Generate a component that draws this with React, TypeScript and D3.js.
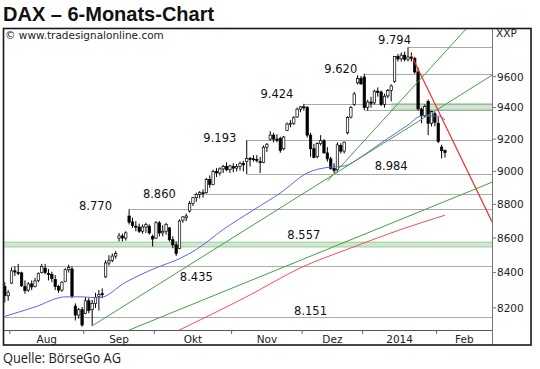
import React, { useRef, useEffect } from "react";
import * as d3 from "d3";

// trading calendar (Xetra) and axis texts
const firstDay = new Date(2013, 6, 30);
const endDay = new Date(2014, 2, 1);
const holidays = ["2013-12-24", "2013-12-25", "2013-12-26", "2013-12-31", "2014-01-01"];
const monthLabels = ["Aug", "Sep", "Okt", "Nov", "Dez", "2014", "Feb"];
const priceTicks = [8200, 8400, 8600, 8800, 9000, 9200, 9400, 9600];

// daily bars: date, open, high, low, close
const bars: [string, number, number, number, number][] = [
  ["2013-07-30", 8320, 8345, 8230, 8270],
  ["2013-07-31", 8268, 8300, 8240, 8285],
  ["2013-08-01", 8340, 8430, 8335, 8410],
  ["2013-08-02", 8410, 8435, 8380, 8403],
  ["2013-08-05", 8400, 8450, 8385, 8398],
  ["2013-08-06", 8398, 8405, 8318, 8325],
  ["2013-08-07", 8320, 8355, 8280, 8297],
  ["2013-08-08", 8300, 8345, 8290, 8335],
  ["2013-08-09", 8335, 8355, 8300, 8318],
  ["2013-08-12", 8320, 8370, 8315, 8352],
  ["2013-08-13", 8355, 8400, 8345, 8396],
  ["2013-08-14", 8400, 8450, 8395, 8435],
  ["2013-08-15", 8425, 8450, 8390, 8400],
  ["2013-08-16", 8395, 8420, 8355, 8391],
  ["2013-08-19", 8390, 8405, 8345, 8366],
  ["2013-08-20", 8360, 8385, 8300, 8320],
  ["2013-08-21", 8320, 8330, 8285, 8300],
  ["2013-08-22", 8300, 8350, 8290, 8345],
  ["2013-08-23", 8350, 8425, 8345, 8416],
  ["2013-08-26", 8416, 8445, 8400, 8430],
  ["2013-08-27", 8420, 8435, 8255, 8265],
  ["2013-08-28", 8210, 8225, 8130, 8160],
  ["2013-08-29", 8160, 8200, 8140, 8190],
  ["2013-08-30", 8190, 8205, 8095, 8105],
  ["2013-09-02", 8170, 8260, 8165, 8240],
  ["2013-09-03", 8240, 8255, 8170, 8185],
  ["2013-09-04", 8190, 8245, 8100, 8225],
  ["2013-09-05", 8225, 8285, 8200, 8260],
  ["2013-09-06", 8265, 8300, 8185, 8276],
  ["2013-09-09", 8280, 8310, 8255, 8276],
  ["2013-09-10", 8375, 8470, 8370, 8455],
  ["2013-09-11", 8455, 8500, 8440, 8469],
  ["2013-09-12", 8470, 8510, 8460, 8495],
  ["2013-09-13", 8495, 8525, 8480, 8509],
  ["2013-09-16", 8600, 8630, 8580, 8613],
  ["2013-09-17", 8612, 8625, 8580, 8600],
  ["2013-09-18", 8600, 8640, 8585, 8630],
  ["2013-09-19", 8730, 8770, 8680, 8694],
  ["2013-09-20", 8695, 8720, 8660, 8675],
  ["2013-09-23", 8670, 8700, 8640, 8665],
  ["2013-09-24", 8665, 8685, 8630, 8640],
  ["2013-09-25", 8640, 8680, 8625, 8665],
  ["2013-09-26", 8665, 8690, 8630, 8680],
  ["2013-09-27", 8670, 8680, 8620, 8630],
  ["2013-09-30", 8610, 8620, 8550, 8594],
  ["2013-10-01", 8600, 8700, 8595, 8690],
  ["2013-10-02", 8690, 8700, 8610, 8630],
  ["2013-10-03", 8630, 8675, 8610, 8640],
  ["2013-10-04", 8640, 8690, 8620, 8680],
  ["2013-10-07", 8660, 8665, 8580, 8590],
  ["2013-10-08", 8590, 8610, 8540, 8560],
  ["2013-10-09", 8560, 8580, 8495, 8510],
  ["2013-10-10", 8540, 8710, 8535, 8700],
  ["2013-10-11", 8705, 8730, 8690, 8725],
  ["2013-10-14", 8720, 8745, 8700, 8730],
  ["2013-10-15", 8760, 8820, 8750, 8805],
  ["2013-10-16", 8805, 8845, 8790, 8840],
  ["2013-10-17", 8840, 8870, 8815, 8860],
  ["2013-10-18", 8860, 8880, 8835, 8870],
  ["2013-10-21", 8870, 8890, 8840, 8865],
  ["2013-10-22", 8870, 8960, 8865, 8950],
  ["2013-10-23", 8950, 8975, 8900, 8920],
  ["2013-10-24", 8920, 9010, 8915, 9000],
  ["2013-10-25", 9000, 9020, 8965, 8990],
  ["2013-10-28", 8990, 9025, 8975, 9015],
  ["2013-10-29", 9015, 9040, 8990, 9030],
  ["2013-10-30", 9030, 9055, 9000, 9010],
  ["2013-10-31", 9010, 9040, 8990, 9033],
  ["2013-11-01", 9030, 9050, 8995, 9020],
  ["2013-11-04", 9020, 9045, 9000, 9030],
  ["2013-11-05", 9030, 9060, 9005, 9050],
  ["2013-11-06", 9050, 9065, 9000, 9040],
  ["2013-11-07", 9060, 9193, 8984, 9080],
  ["2013-11-08", 9080, 9090, 9030, 9078],
  ["2013-11-11", 9078, 9100, 9060, 9074],
  ["2013-11-12", 9074, 9100, 9055, 9070],
  ["2013-11-13", 9060, 9090, 8990, 9054],
  ["2013-11-14", 9054, 9160, 9050, 9149],
  ["2013-11-15", 9150, 9175, 9120, 9168],
  ["2013-11-18", 9200, 9250, 9190, 9225],
  ["2013-11-19", 9225, 9240, 9180, 9200],
  ["2013-11-20", 9200, 9230, 9180, 9193],
  ["2013-11-21", 9205, 9215, 9115, 9130],
  ["2013-11-22", 9140, 9220, 9130, 9213],
  ["2013-11-25", 9255, 9305, 9250, 9295],
  ["2013-11-26", 9295, 9320, 9275, 9300],
  ["2013-11-27", 9300, 9345, 9290, 9335],
  ["2013-11-28", 9340, 9400, 9335, 9390],
  ["2013-11-29", 9390, 9410, 9370, 9405],
  ["2013-12-02", 9405, 9424, 9380, 9400],
  ["2013-12-03", 9400, 9410, 9210, 9225],
  ["2013-12-04", 9225, 9240, 9090, 9140],
  ["2013-12-05", 9140, 9170, 9080, 9085],
  ["2013-12-06", 9090, 9180, 9080, 9172],
  ["2013-12-09", 9172, 9225, 9160, 9190],
  ["2013-12-10", 9190, 9200, 9110, 9114],
  ["2013-12-11", 9114, 9150, 9060, 9077],
  ["2013-12-12", 9077, 9090, 9010, 9017],
  ["2013-12-13", 9017, 9050, 8990, 9006],
  ["2013-12-16", 9010, 9180, 9000, 9164],
  ["2013-12-17", 9160, 9175, 9110, 9125],
  ["2013-12-18", 9125, 9185, 9110, 9181],
  ["2013-12-19", 9240, 9345, 9230, 9336],
  ["2013-12-20", 9340, 9410, 9330, 9400],
  ["2013-12-23", 9420, 9500, 9410, 9488],
  ["2013-12-27", 9560, 9610, 9550, 9589],
  ["2013-12-30", 9590, 9605, 9550, 9552],
  ["2014-01-02", 9598, 9620, 9385, 9400],
  ["2014-01-03", 9400, 9450, 9380, 9436],
  ["2014-01-06", 9436, 9470, 9400, 9428],
  ["2014-01-07", 9430, 9515, 9420, 9506],
  ["2014-01-08", 9506, 9530, 9470, 9498],
  ["2014-01-09", 9500, 9510, 9410, 9421],
  ["2014-01-10", 9421, 9490, 9400, 9473],
  ["2014-01-13", 9475, 9520, 9460, 9510],
  ["2014-01-14", 9510, 9550, 9440, 9540],
  ["2014-01-15", 9570, 9735, 9560, 9733],
  ["2014-01-16", 9733, 9750, 9700, 9717],
  ["2014-01-17", 9717, 9760, 9700, 9742],
  ["2014-01-20", 9742, 9765, 9700, 9715],
  ["2014-01-21", 9715, 9794, 9700, 9730],
  ["2014-01-22", 9730, 9760, 9700, 9720],
  ["2014-01-23", 9720, 9730, 9620, 9631],
  ["2014-01-24", 9631, 9660, 9380, 9392],
  ["2014-01-27", 9390, 9400, 9300, 9349],
  ["2014-01-28", 9349, 9420, 9340, 9406],
  ["2014-01-29", 9440, 9452, 9225, 9300],
  ["2014-01-30", 9300, 9380, 9280, 9374],
  ["2014-01-31", 9360, 9375, 9280, 9306],
  ["2014-02-03", 9300, 9340, 9175, 9186],
  ["2014-02-04", 9150, 9165, 9080, 9128],
  ["2014-02-05", 9128, 9135, 9085, 9116],
];

// moving averages
const sma50: [string, number][] = [
  ["2013-07-30", 8153], ["2013-08-12", 8205], ["2013-08-23", 8262], ["2013-08-30", 8262],
  ["2013-09-06", 8256], ["2013-09-18", 8345], ["2013-10-01", 8427], ["2013-10-10", 8480],
  ["2013-10-17", 8533], ["2013-10-29", 8650], ["2013-11-11", 8766], ["2013-11-21", 8868],
  ["2013-12-03", 8990], ["2013-12-12", 9027], ["2013-12-18", 9033], ["2013-12-30", 9089],
  ["2014-01-09", 9176], ["2014-01-21", 9289], ["2014-01-27", 9346], ["2014-02-03", 9346],
  ["2014-02-05", 9321],
];
const sma200: [string, number][] = [
  ["2013-10-08", 8060], ["2013-11-08", 8273], ["2013-11-29", 8427], ["2013-12-20", 8542],
  ["2014-01-17", 8651], ["2014-02-05", 8735],
];

// trend lines: two anchor points, extended to the right edge
const greenTrends: [string, number][][] = [
  [["2013-09-04", 8100], ["2014-01-31", 9378]],
  [["2013-12-11", 8940], ["2014-01-21", 9496]],
  [["2013-09-19", 8077], ["2014-02-18", 8892]],
];
const redTrend: [string, number][] = [["2014-01-22", 9742], ["2014-02-10", 9161]];

// horizontal levels: value, start date (null = left edge)
const levels: [number, string | null][] = [
  [9794, "2014-01-21"], [9620, "2014-01-02"], [9424, "2013-12-02"], [9385, "2014-01-02"],
  [9193, "2013-11-07"], [8984, "2013-11-07"], [8860, "2013-10-16"], [8770, "2013-09-19"],
  [8435, "2013-08-01"], [8151, null],
];
const zones: [number, number, string | null][] = [
  [8548, 8576, null],
  [9385, 9424, "2014-01-14"],
];
// level captions: text, date under its centre, level value
const captions: [string, string, number][] = [
  ["9.794", "2014-01-15", 9794], ["9.620", "2013-12-17", 9620], ["9.424", "2013-11-20", 9424],
  ["9.193", "2013-10-28", 9193], ["8.984", "2014-01-14", 8984], ["8.860", "2013-10-02", 8860],
  ["8.770", "2013-09-05", 8770], ["8.557", "2013-12-02", 8557], ["8.435", "2013-10-17", 8435],
  ["8.151", "2013-12-04", 8151],
];
const captionShift: Record<string, number> = {
  "9.794": -3.5, "9.620": -1, "9.424": -6, "9.193": 1.5, "8.984": -4, "8.860": 3.5,
  "8.770": 0.7, "8.557": -6.5, "8.435": 14.5, "8.151": -2,
};

const W = 540;
const H = 369;
const plot = { left: 3.5, top: 29, right: 492, bottom: 330 };
const frame = { left: 3.5, top: 28.5, right: 531, bottom: 345 };
const labelFont = "'DejaVu Sans', Verdana, sans-serif";

const DaxChart = () => {
  const svgRef = useRef<SVGSVGElement>(null);

  useEffect(() => {
    const svg = d3.select(svgRef.current);
    svg.selectAll("*").remove();

    const fmt = d3.timeFormat("%Y-%m-%d");
    const days = d3.timeDay
      .range(firstDay, endDay)
      .filter((d) => d.getDay() !== 0 && d.getDay() !== 6)
      .map(fmt)
      .filter((d) => !holidays.includes(d));

    const slot = 3.36;
    const x = d3
      .scaleBand<string>()
      .domain(days)
      .range([3.12, 3.12 + days.length * slot]);
    const cx = (d: string) => (x(d) as number) + x.bandwidth() / 2;
    const y = d3.scaleLog().domain([8200, 9600]).range([307.9, 76.7]);

    svg.append("rect").attr("width", W).attr("height", H).attr("fill", "#fff");

    svg
      .append("defs")
      .append("clipPath")
      .attr("id", "plotclip")
      .append("rect")
      .attr("x", plot.left)
      .attr("y", plot.top)
      .attr("width", plot.right - plot.left)
      .attr("height", plot.bottom - plot.top);

    const g = svg.append("g").attr("clip-path", "url(#plotclip)");

    // green zones
    zones.forEach(([lo, hi, from]) => {
      const x0 = from ? cx(from) : plot.left;
      g.append("rect")
        .attr("x", x0)
        .attr("y", y(hi))
        .attr("width", plot.right - x0)
        .attr("height", y(lo) - y(hi))
        .attr("fill", "#cfe8cf");
      [lo, hi].forEach((v) =>
        g.append("line")
          .attr("x1", x0)
          .attr("x2", plot.right)
          .attr("y1", y(v))
          .attr("y2", y(v))
          .attr("stroke", "#9ccc9c")
          .attr("stroke-width", 1)
      );
    });

    // horizontal levels
    levels.forEach(([v, from]) => {
      g.append("line")
        .attr("x1", from ? cx(from) : plot.left)
        .attr("x2", plot.right)
        .attr("y1", Math.round(y(v)) + 0.5)
        .attr("y2", Math.round(y(v)) + 0.5)
        .attr("stroke", "#aaaaaa")
        .attr("stroke-width", 1);
    });

    // bars
    const bw = 2.4;
    const candle = g
      .selectAll(".bar")
      .data(bars)
      .enter()
      .append("g")
      .attr("class", "bar");
    candle
      .append("line")
      .attr("x1", (d) => cx(d[0]))
      .attr("x2", (d) => cx(d[0]))
      .attr("y1", (d) => y(d[2]))
      .attr("y2", (d) => y(d[3]))
      .attr("stroke", "#000")
      .attr("stroke-width", 1);
    candle
      .append("rect")
      .attr("x", (d) => cx(d[0]) - bw / 2)
      .attr("y", (d) => y(Math.max(d[1], d[4])))
      .attr("width", bw)
      .attr("height", (d) => Math.max(1, Math.abs(y(d[1]) - y(d[4]))))
      .attr("fill", (d) => (d[4] >= d[1] ? "#fff" : "#000"))
      .attr("stroke", "#000")
      .attr("stroke-width", 0.7);

    // moving averages
    const curve = d3
      .line<[string, number]>()
      .x((d) => cx(d[0]))
      .y((d) => y(d[1]))
      .curve(d3.curveMonotoneX);
    g.append("path")
      .attr("d", curve(sma200))
      .attr("fill", "none")
      .attr("stroke", "#f0505a")
      .attr("stroke-width", 1);
    g.append("path")
      .attr("d", curve(sma50))
      .attr("fill", "none")
      .attr("stroke", "#6060ee")
      .attr("stroke-width", 1);

    // trend lines
    const trend = (pts: [string, number][], color: string, w: number) => {
      const [a, b] = pts;
      const x1 = cx(a[0]);
      const y1 = y(a[1]);
      const k = (y(b[1]) - y1) / (cx(b[0]) - x1);
      g.append("line")
        .attr("x1", x1)
        .attr("y1", y1)
        .attr("x2", plot.right)
        .attr("y2", y1 + k * (plot.right - x1))
        .attr("stroke", color)
        .attr("stroke-width", w);
    };
    greenTrends.forEach((t) => trend(t, "#45a045", 1));
    trend(redTrend, "#ee3030", 1.2);

    // level captions
    captions.forEach(([t, d, v]) => {
      svg
        .append("text")
        .attr("x", cx(d))
        .attr("y", y(v) + captionShift[t])
        .attr("text-anchor", "middle")
        .attr("font-family", labelFont)
        .attr("font-size", 11.5)
        .attr("fill", "#111")
        .text(t);
    });

    // time axis
    svg
      .append("line")
      .attr("x1", frame.left)
      .attr("x2", plot.right)
      .attr("y1", plot.bottom + 0.5)
      .attr("y2", plot.bottom + 0.5)
      .attr("stroke", "#555");
    const months = d3.groups(days, (d) => d.slice(0, 7)).map((m) => m[1][0]).slice(1);
    months.forEach((d, i) => {
      const xt = x(d) as number;
      const next = i + 1 < months.length ? (x(months[i + 1]) as number) : plot.right;
      svg
        .append("line")
        .attr("x1", xt)
        .attr("x2", xt)
        .attr("y1", plot.bottom + 1)
        .attr("y2", plot.bottom + 4)
        .attr("stroke", "#666");
      svg
        .append("text")
        .attr("x", (xt + Math.min(next, plot.right)) / 2)
        .attr("y", 342.5)
        .attr("text-anchor", "middle")
        .attr("font-family", labelFont)
        .attr("font-size", 10.5)
        .attr("fill", "#222")
        .text(monthLabels[i]);
    });

    // price axis
    svg
      .append("line")
      .attr("x1", plot.right + 0.5)
      .attr("x2", plot.right + 0.5)
      .attr("y1", frame.top)
      .attr("y2", frame.bottom)
      .attr("stroke", "#777");
    priceTicks.forEach((v) => {
      svg
        .append("line")
        .attr("x1", plot.right)
        .attr("x2", plot.right + 4)
        .attr("y1", y(v))
        .attr("y2", y(v))
        .attr("stroke", "#777");
      svg
        .append("text")
        .attr("x", plot.right + 5)
        .attr("y", y(v) + 3.8)
        .attr("font-family", labelFont)
        .attr("font-size", 10.5)
        .attr("fill", "#222")
        .text(String(v));
    });
    svg
      .append("text")
      .attr("x", plot.right + 4)
      .attr("y", 37)
      .attr("font-family", labelFont)
      .attr("font-size", 10.5)
      .attr("fill", "#222")
      .text("XXP");

    // frame and headings
    svg
      .append("rect")
      .attr("x", frame.left)
      .attr("y", frame.top)
      .attr("width", frame.right - frame.left)
      .attr("height", frame.bottom - frame.top)
      .attr("fill", "none")
      .attr("stroke", "#1a1a1a")
      .attr("stroke-width", 1.6);
    svg
      .append("text")
      .attr("x", 5)
      .attr("y", 38.5)
      .attr("font-family", labelFont)
      .attr("font-size", 10.5)
      .attr("fill", "#222")
      .text("© www.tradesignalonline.com");
    svg
      .append("text")
      .attr("x", 3)
      .attr("y", 21)
      .attr("font-family", "'Liberation Sans', Arial, sans-serif")
      .attr("font-weight", "bold")
      .attr("font-size", 20)
      .attr("fill", "#111")
      .text("DAX – 6-Monats-Chart");
    svg
      .append("text")
      .attr("x", 3)
      .attr("y", 363)
      .attr("font-family", "'Open Sans', sans-serif")
      .attr("font-size", 14.5)
      .attr("textLength", 118)
      .attr("lengthAdjust", "spacingAndGlyphs")
      .attr("fill", "#222")
      .text("Quelle: BörseGo AG");
  }, []);

  return (
    <svg
      ref={svgRef}
      width={W}
      height={H}
      style={{ position: "absolute", left: 0, top: 0, display: "block" }}
    />
  );
};

export default function App() {
  return <DaxChart />;
}
